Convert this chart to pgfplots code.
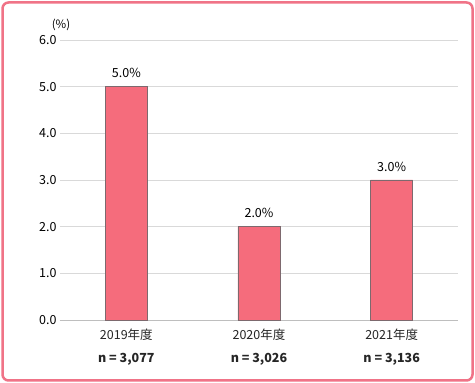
\documentclass[border=0pt]{standalone}
\usepackage{fontspec}
\setmainfont{Noto Sans CJK JP}
\usepackage{pgfplots}
\pgfplotsset{compat=1.18}
\definecolor{barfill}{RGB}{245,108,124}
\definecolor{baredge}{RGB}{125,105,110}
\definecolor{frame}{RGB}{240,115,135}
\definecolor{gridc}{RGB}{217,217,217}
\definecolor{axc}{RGB}{190,190,190}
\begin{document}
\begin{tikzpicture}[x=1pt,y=1pt]
\fill[white] (0,0) rectangle (475,383);
\draw[frame, line width=2.5pt, rounded corners=6pt] (2.5,2.5) rectangle (472.5,380.5);
\begin{axis}[
  at={(60pt,63pt)}, anchor=south west,
  scale only axis, width=398pt, height=280pt,
  xmin=-0.5, xmax=2.5, ymin=0, ymax=6,
  ytick={0,1,2,3,4,5,6},
  xtick={0,1,2},
  xticklabels={{2019年度\\[9pt]\textbf{n = 3,077}},{2020年度\\[9pt]\textbf{n = 3,026}},{2021年度\\[9pt]\textbf{n = 3,136}}},
  xticklabel style={align=center, font=\fontsize{12.5}{14}\selectfont, text=black!85, yshift=-5pt},
  yticklabel style={font=\fontsize{12.5}{14}\selectfont, /pgf/number format/.cd, fixed, fixed zerofill, precision=1, assume math mode=true},
  major tick length=0pt,
  axis x line=bottom, axis y line=left,
  x axis line style={axc, -},
  y axis line style={draw=none},
  ymajorgrids, grid style={gridc, line width=0.8pt},
  ybar, bar width=42pt,
  nodes near coords={\pgfmathprintnumber[fixed, fixed zerofill, precision=1, assume math mode=true]{\pgfplotspointmeta}\%},
  nodes near coords style={font=\fontsize{12.5}{14}\selectfont, yshift=5pt},
  clip=false,
]
\addplot[fill=barfill, draw=baredge, line width=0.6pt] coordinates {(0,5.0) (1,2.0) (2,3.0)};
\end{axis}
\node[font=\fontsize{11.5}{13}\selectfont] at (61,358) {(\%)};
\end{tikzpicture}
\end{document}
